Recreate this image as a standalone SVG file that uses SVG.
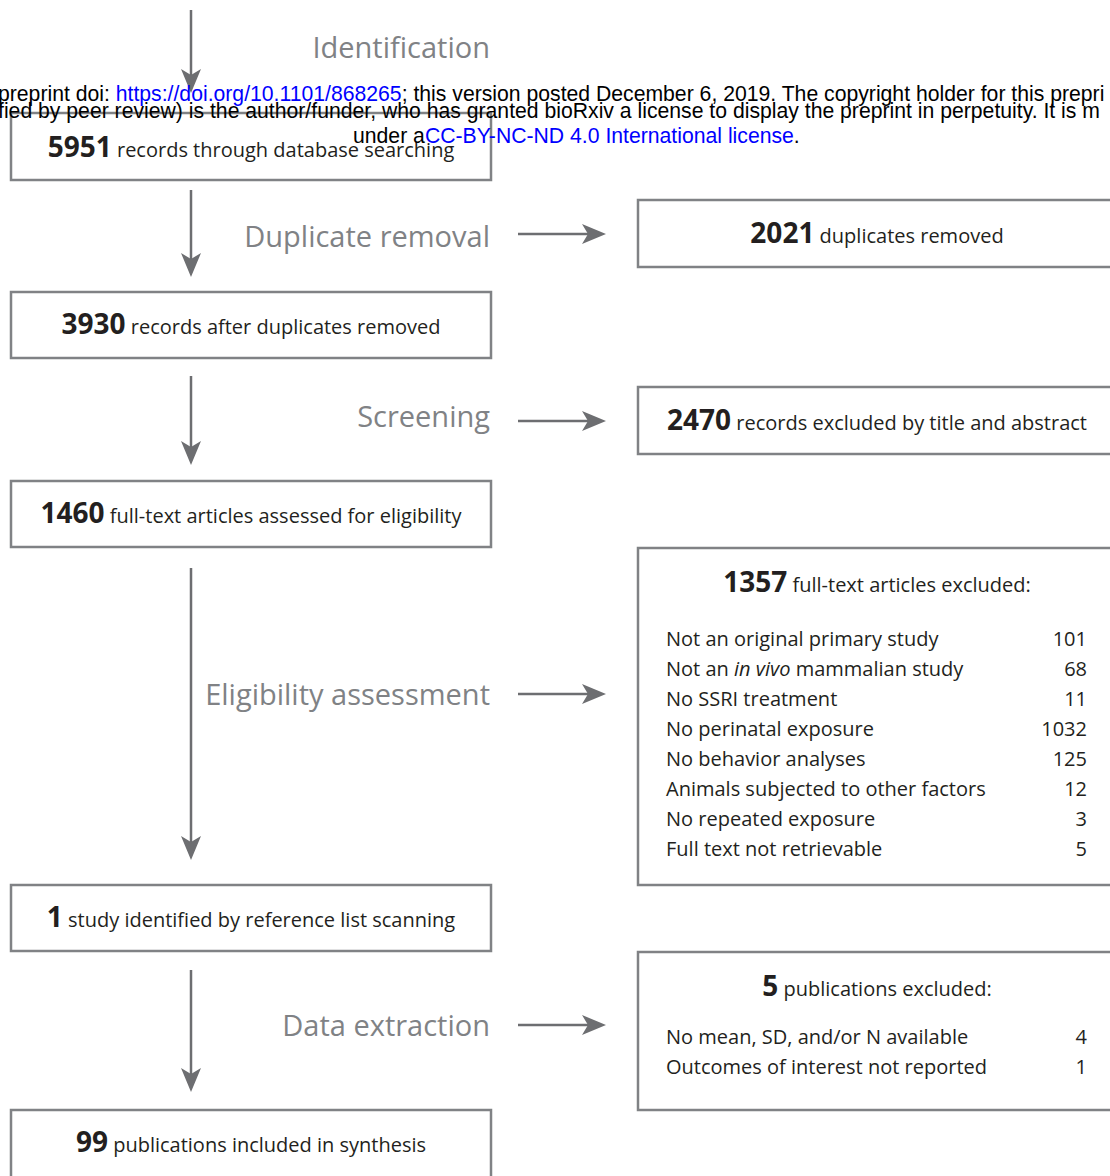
<svg xmlns="http://www.w3.org/2000/svg" width="1110" height="1176" viewBox="0 0 1110 1176">
<style>
.bg{fill:#ffffff}
.box{fill:#ffffff;stroke:#808285;stroke-width:2.5}
.arr{fill:none;stroke:#6d6e71;stroke-width:2.5}
.phase{font-family:"Open Sans","Noto Sans",sans-serif;font-size:29px;fill:#808285}
.t{font-family:"Open Sans","Noto Sans",sans-serif;font-size:20px;fill:#231f20}
.c{text-anchor:middle}
.e{text-anchor:end}
.n{font-weight:bold;font-size:28px}
.wm{font-family:"Liberation Sans",Arial,sans-serif;font-size:21.2px;fill:#000000}
.lnk{fill:#0000ff}
</style>
<defs>
<marker id="ah" markerUnits="userSpaceOnUse" viewBox="0 0 24 20" markerWidth="24" markerHeight="20" refX="16" refY="10" orient="auto">
<path d="M0,0 L24,10 L0,20 L6,10 Z" fill="#6d6e71"/>
</marker>
</defs>
<rect class="bg" x="0" y="0" width="1110" height="1176"/>

<g id="connectors">
<path class="arr" d="M191,10 V85" marker-end="url(#ah)"/>
<path class="arr" d="M191,190 V269" marker-end="url(#ah)"/>
<path class="arr" d="M191,376 V457" marker-end="url(#ah)"/>
<path class="arr" d="M191,568 V852" marker-end="url(#ah)"/>
<path class="arr" d="M191,970 V1084" marker-end="url(#ah)"/>
<path class="arr" d="M518,234 H598" marker-end="url(#ah)"/>
<path class="arr" d="M518,421 H598" marker-end="url(#ah)"/>
<path class="arr" d="M518,694 H598" marker-end="url(#ah)"/>
<path class="arr" d="M518,1025 H598" marker-end="url(#ah)"/>
</g>

<g id="phase-labels">
<text class="phase e" x="490" y="58">Identification</text>
<text class="phase e" x="490" y="247">Duplicate removal</text>
<text class="phase e" x="490" y="427">Screening</text>
<text class="phase e" x="490" y="705">Eligibility assessment</text>
<text class="phase e" x="490" y="1036">Data extraction</text>
</g>

<g id="n-5951">
<rect class="box" x="11" y="113" width="480" height="67"/>
<text class="t c" x="251" y="157"><tspan class="n">5951</tspan> records through database searching</text>
</g>

<g id="n-2021">
<rect class="box" x="638" y="200" width="480" height="67"/>
<text class="t c" x="877" y="243"><tspan class="n">2021</tspan> duplicates removed</text>
</g>

<g id="n-3930">
<rect class="box" x="11" y="292" width="480" height="66"/>
<text class="t c" x="251" y="334"><tspan class="n">3930</tspan> records after duplicates removed</text>
</g>

<g id="n-2470">
<rect class="box" x="638" y="387" width="480" height="67"/>
<text class="t c" x="877" y="430"><tspan class="n">2470</tspan> records excluded by title and abstract</text>
</g>

<g id="n-1460">
<rect class="box" x="11" y="481" width="480" height="66"/>
<text class="t c" x="251" y="523"><tspan class="n">1460</tspan> full-text articles assessed for eligibility</text>
</g>

<g id="n-1357">
<rect class="box" x="638" y="548" width="480" height="337"/>
<text class="t c" x="877" y="592"><tspan class="n">1357</tspan> full-text articles excluded:</text>
<text class="t" x="666" y="646">Not an original primary study</text>
<text class="t" x="666" y="676">Not an <tspan font-style="italic">in vivo</tspan> mammalian study</text>
<text class="t" x="666" y="706">No SSRI treatment</text>
<text class="t" x="666" y="736">No perinatal exposure</text>
<text class="t" x="666" y="766">No behavior analyses</text>
<text class="t" x="666" y="796">Animals subjected to other factors</text>
<text class="t" x="666" y="826">No repeated exposure</text>
<text class="t" x="666" y="856">Full text not retrievable</text>
<text class="t e" x="1087" y="646">101</text>
<text class="t e" x="1087" y="676">68</text>
<text class="t e" x="1087" y="706">11</text>
<text class="t e" x="1087" y="736">1032</text>
<text class="t e" x="1087" y="766">125</text>
<text class="t e" x="1087" y="796">12</text>
<text class="t e" x="1087" y="826">3</text>
<text class="t e" x="1087" y="856">5</text>
</g>

<g id="n-1study">
<rect class="box" x="11" y="885" width="480" height="66"/>
<text class="t c" x="251" y="927"><tspan class="n">1</tspan> study identified by reference list scanning</text>
</g>

<g id="n-5pub">
<rect class="box" x="638" y="952" width="480" height="158"/>
<text class="t c" x="877" y="996"><tspan class="n">5</tspan> publications excluded:</text>
<text class="t" x="666" y="1044">No mean, SD, and/or N available</text>
<text class="t" x="666" y="1074">Outcomes of interest not reported</text>
<text class="t e" x="1087" y="1044">4</text>
<text class="t e" x="1087" y="1074">1</text>
</g>

<g id="n-99">
<rect class="box" x="11" y="1110" width="480" height="80"/>
<text class="t c" x="251" y="1152"><tspan class="n">99</tspan> publications included in synthesis</text>
</g>

<g id="watermark">
<text class="wm" x="-2" y="101">preprint doi: <tspan class="lnk">https://doi.org/10.1101/868265</tspan>; this version posted December 6, 2019. The copyright holder for this prepri</text>
<text class="wm" x="-2" y="118">fied by peer review) is the author/funder, who has granted bioRxiv a license to display the preprint in perpetuity. It is m</text>
<text class="wm" x="353" y="143">under a<tspan class="lnk">CC-BY-NC-ND 4.0 International license</tspan>.</text>
</g>
</svg>
